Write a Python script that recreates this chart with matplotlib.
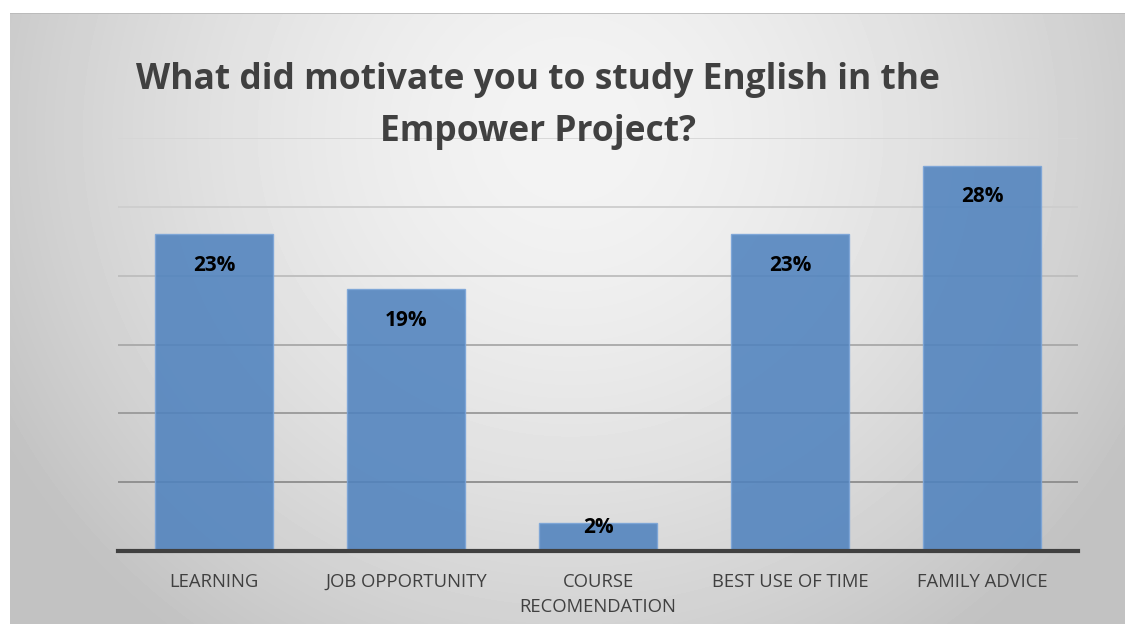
import matplotlib.pyplot as plt
import numpy as np

categories = ['LEARNING', 'JOB OPPORTUNITY', 'COURSE\nRECOMENDATION',
              'BEST USE OF TIME', 'FAMILY ADVICE']
shares = [23, 19, 2, 23, 28]
grid_levels = [5, 10, 15, 20, 25, 30]
title = 'What did motivate you to study English in the\nEmpower Project?'

plt.rcParams['font.family'] = ['Open Sans', 'DejaVu Sans']

fig = plt.figure(figsize=(11.25, 6.24), dpi=100)
fig.patch.set_facecolor('white')

# soft radial grey backdrop for the chart area
bg = fig.add_axes([10 / 1125, 0, 1115 / 1125, 611 / 624])
bg.set_axis_off()
yy, xx = np.mgrid[0:611, 0:1115]
r = np.sqrt(((xx - 560) / 640.0) ** 2 + ((yy - 120) / 620.0) ** 2)
shade = np.clip(0.955 - 0.19 * r ** 1.6, 0.76, 0.96)
bg.imshow(shade, cmap='gray', vmin=0, vmax=1, aspect='auto',
          extent=(0, 1, 0, 1), origin='upper')
bg.set_xlim(0, 1)
bg.set_ylim(0, 1)
bg.plot([0, 1], [1, 1], color='#b8b8b8', lw=1.2)

ax = fig.add_axes([118 / 1125, 1 - 551 / 624, 960 / 1125, 413 / 624])
ax.patch.set_alpha(0)
x = np.arange(len(categories))

grid_colors = ['#d6d6d6', '#cdcdcd', '#bdbdbd', '#a8a8a8', '#999999', '#8c8c8c']
for lvl, c in zip(grid_levels[::-1], grid_colors):
    ax.axhline(lvl, color=c, lw=1.3, zorder=1)

bars = ax.bar(x, shares, width=0.61, color='#4f82be', alpha=0.87,
              edgecolor='#7aa4d8', linewidth=1.0, zorder=2)
for b, v in zip(bars, shares):
    # labels sit inside the bar top; short bars keep them near the edge
    ypos = v - 2.25 if v > 4 else v - 0.3
    ax.text(b.get_x() + b.get_width() / 2, ypos, f'{v}%',
            ha='center', va='center', fontsize=15, fontweight='bold',
            color='black', zorder=3)

ax.set_xlim(-0.5, 4.5)
ax.set_ylim(0, 30)
ax.set_yticks([])
ax.set_xticks(x)
ax.set_xticklabels(categories, fontsize=13.3, color='#404040', linespacing=1.45)
ax.tick_params(axis='x', length=0, pad=16)
for s in ['top', 'right', 'left']:
    ax.spines[s].set_visible(False)
ax.spines['bottom'].set_color('#404040')
ax.spines['bottom'].set_linewidth(3)
ax.spines['bottom'].set_zorder(4)

fig.text(538 / 1125, 1 - 106 / 624, title, ha='center', va='center',
         fontsize=25.5, fontweight='bold', color='#404040', linespacing=1.6)

fig.savefig('out.png', dpi=100)
